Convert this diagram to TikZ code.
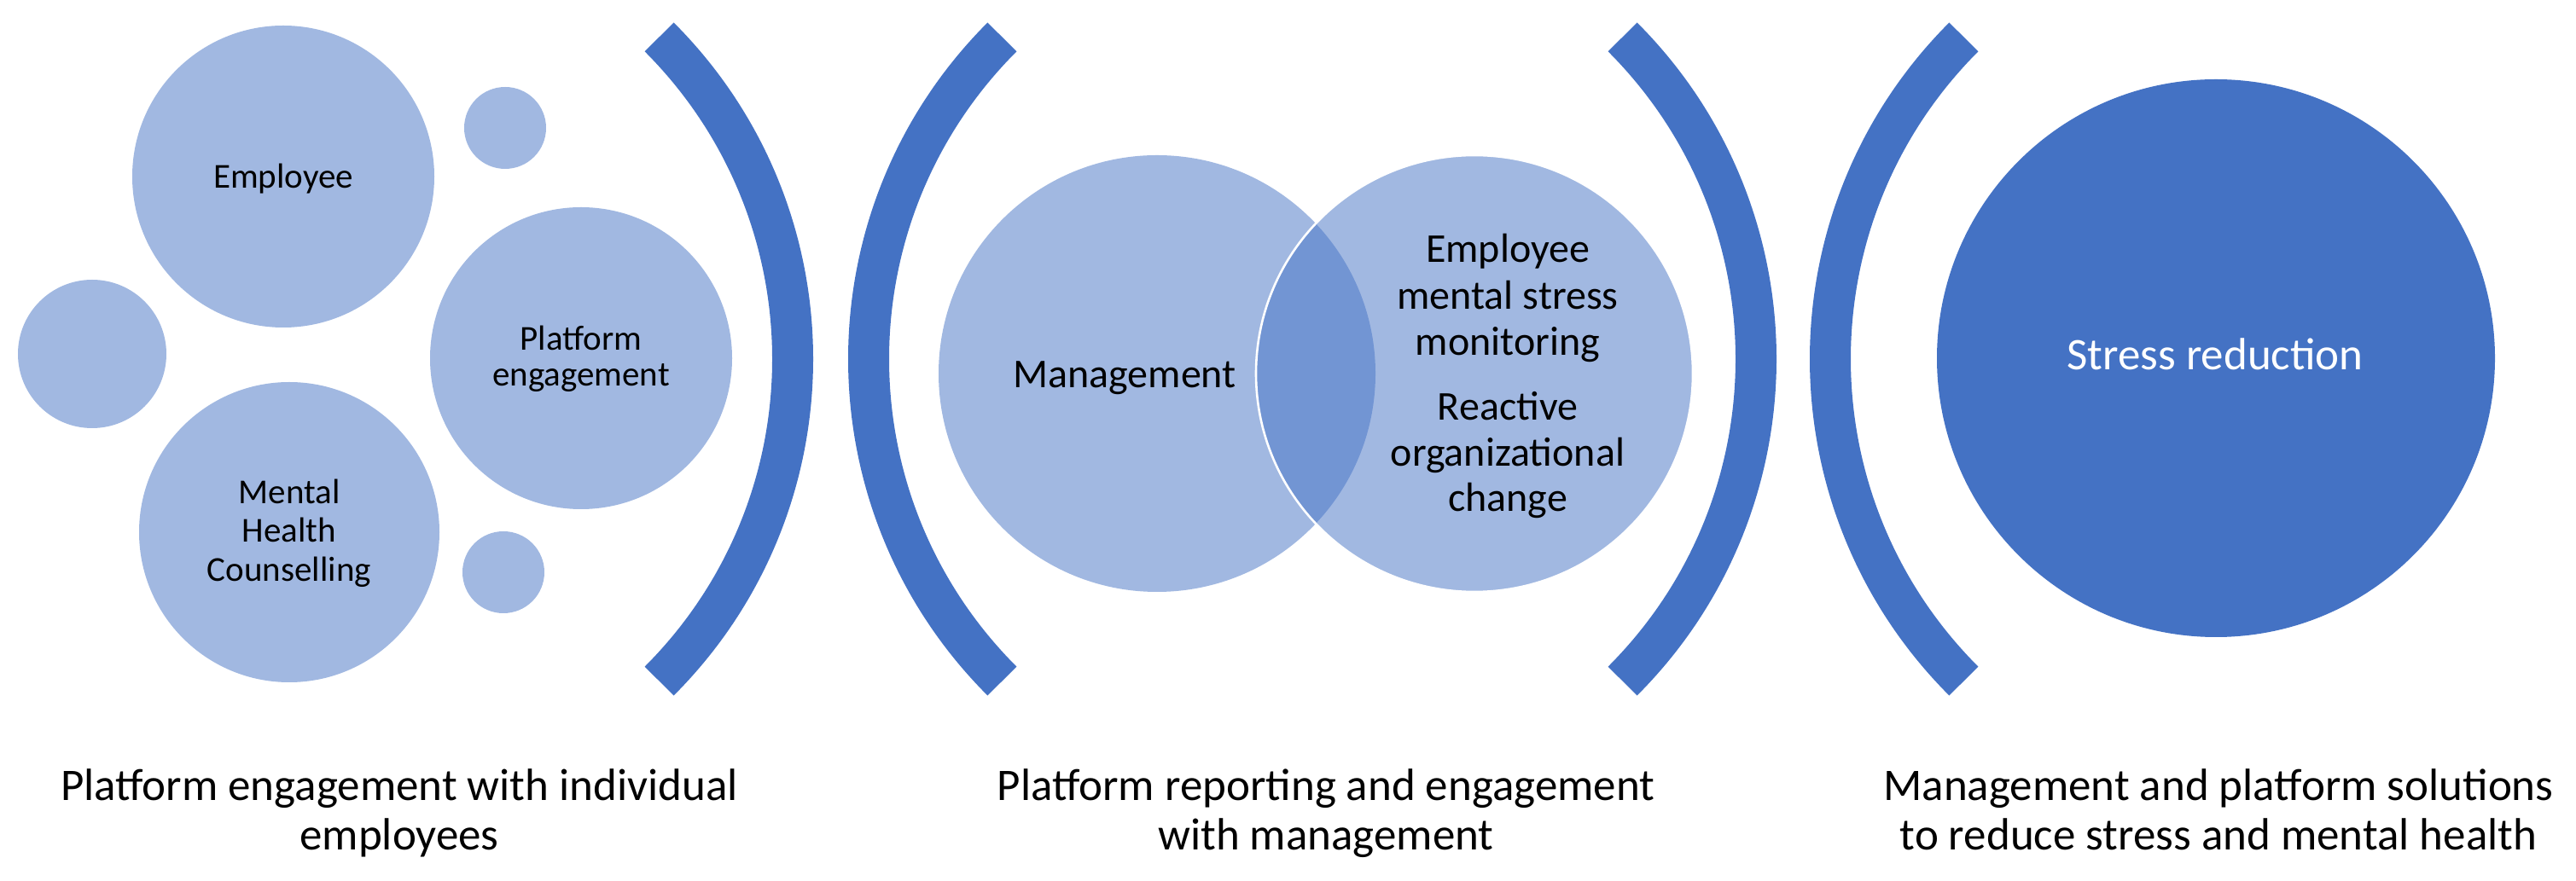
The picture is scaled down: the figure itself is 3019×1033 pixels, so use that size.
\documentclass[tikz,border=0pt]{standalone}
\usepackage{fontspec}
\setmainfont{Carlito}
\definecolor{acc}{HTML}{4472C4}
\definecolor{lite}{HTML}{A1B8E1}
\begin{document}
\begin{tikzpicture}[x=0.5pt,y=0.5pt,
  bubble/.style={circle,fill=lite,inner sep=0pt},
  brk/.style={draw=acc,line width=24pt},
  venn/.style={circle,fill=acc,fill opacity=0.5,inner sep=0pt},
  smalltxt/.style={font=\fontsize{20.5}{22}\selectfont,anchor=base,inner sep=0pt},
  venntxt/.style={font=\fontsize{24}{27}\selectfont,anchor=base,inner sep=0pt},
  bigtxt/.style={font=\fontsize{26.5}{29}\selectfont,anchor=base,inner sep=0pt}]
\useasboundingbox (0,0) rectangle (3019,1033);

% left group of bubbles
\node[bubble,minimum size=177pt] (emp) at (332,826) {};
\node[bubble,minimum size=48pt] (smtop) at (592,883) {};
\node[bubble,minimum size=87pt] (smleft) at (108,618) {};
\node[bubble,minimum size=177pt] (plat) at (681,613) {};
\node[bubble,minimum size=176pt] (mhc) at (339,409) {};
\node[bubble,minimum size=48pt] (smbot) at (590,362) {};

\node[smalltxt] (tEmp) at (332,812) {Employee};
\node[smalltxt] (tPlat1) at (681,622) {Platform};
\node[smalltxt] (tPlat2) at (681,580) {engagement};
\node[smalltxt] (tMhc1) at (339,442) {Mental};
\node[smalltxt] (tMhc2) at (339,397) {Health};
\node[smalltxt] (tMhc3) at (339,351) {Counselling};

% brackets
\coordinate (c1) at (395,612);
\coordinate (c2) at (1552,612);
\coordinate (c3) at (1524,612);
\coordinate (c4) at (2679,612);
\draw[brk] ([shift={(-45:534)}]c1) arc[start angle=-45,end angle=45,radius=534];
\draw[brk] ([shift={(135:534)}]c2) arc[start angle=135,end angle=225,radius=534];
\draw[brk] ([shift={(-45:534)}]c3) arc[start angle=-45,end angle=45,radius=534];
\draw[brk] ([shift={(135:534)}]c4) arc[start angle=135,end angle=225,radius=534];

% Venn
\node[venn,minimum size=256pt] (mgmt) at (1356,595) {};
\node[venn,minimum size=256pt,draw=white,draw opacity=1,line width=1.3pt] (mon) at (1728,595) {};

\node[venntxt] (tMgmt) at (1318,578) {Management};
\node[venntxt] (tR1) at (1767,725) {Employee};
\node[venntxt] (tR2) at (1767,670) {mental stress};
\node[venntxt] (tR3) at (1767,616) {monitoring};
\node[venntxt] (tR4) at (1767,540) {Reactive};
\node[venntxt] (tR5) at (1767,486) {organizational};
\node[venntxt] (tR6) at (1767,433) {change};

% Stress reduction
\node[circle,fill=acc,inner sep=0pt,minimum size=327pt] (stress) at (2597,613) {};
\node[bigtxt,text=white] (tStress) at (2596,599) {Stress reduction};

% bottom labels
\node[bigtxt] (l1a) at (468,94) {Platform engagement with individual};
\node[bigtxt] (l1b) at (468,36) {employees};
\node[bigtxt] (l2a) at (1554,94) {Platform reporting and engagement};
\node[bigtxt] (l2b) at (1554,36) {with management};
\node[bigtxt] (l3a) at (2600,94) {Management and platform solutions};
\node[bigtxt] (l3b) at (2600,36) {to reduce stress and mental health};
\end{tikzpicture}
\end{document}
